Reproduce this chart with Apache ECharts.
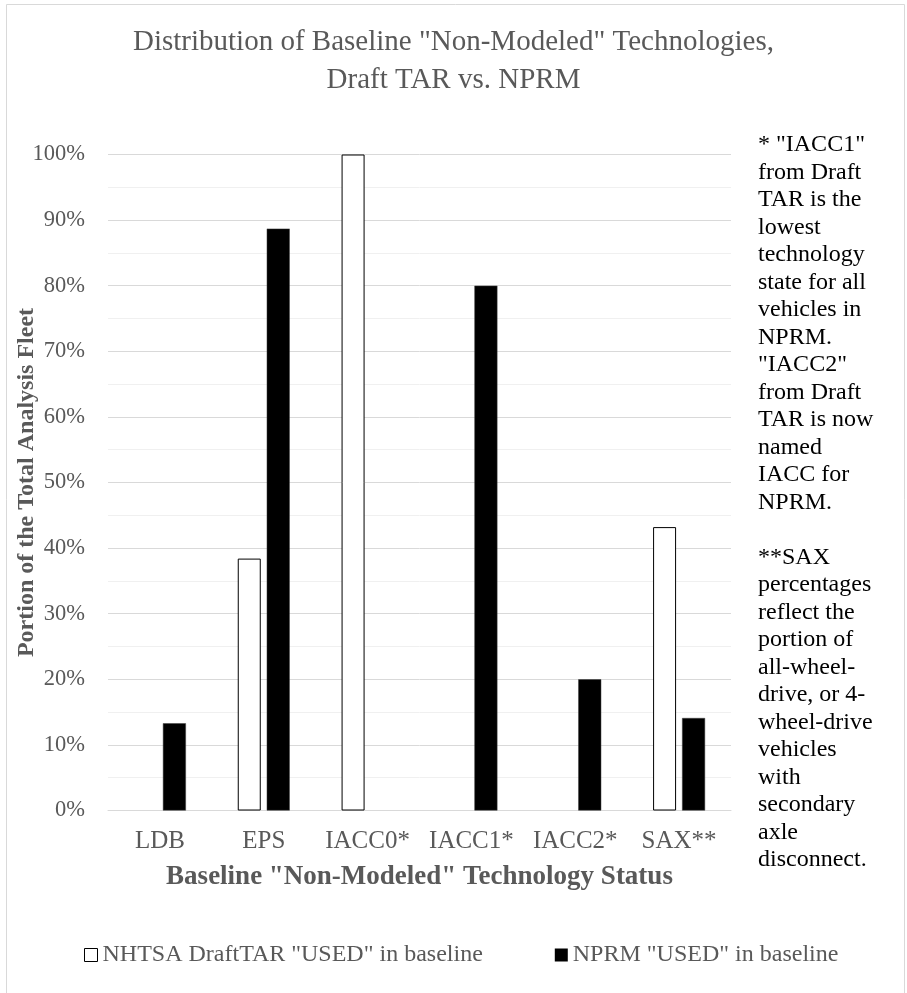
<!DOCTYPE html>
<html>
<head>
<meta charset="utf-8">
<script src="https://cdn.jsdelivr.net/npm/echarts@6/dist/echarts.min.js"></script>
<style>
  html, body {margin: 0; padding: 0; background: #fff;}
  #chart {width: 907px; height: 993px;}
</style>
</head>
<body>
<div id="chart"></div>
<script>
const categories = ['LDB', 'EPS', 'IACC0*', 'IACC1*', 'IACC2*', 'SAX**']
// portion of total fleet, percent (0 = no bar)
const draftTar = [0, 38.4, 100, 0, 0, 43.2]
const nprm = [13.3, 88.7, 0, 80.0, 20.0, 14.1]
const yTicks = [0, 100, 10]

const note = [
  '* "IACC1"', 'from Draft', 'TAR is the', 'lowest', 'technology', 'state for all',
  'vehicles in', 'NPRM.', '"IACC2"', 'from Draft', 'TAR is now', 'named',
  'IACC for', 'NPRM.', '', '**SAX', 'percentages', 'reflect the', 'portion of',
  'all-wheel-', 'drive, or 4-', 'wheel-drive', 'vehicles', 'with', 'secondary',
  'axle', 'disconnect.',
].join('\n')

const serif = '"Liberation Serif", "Times New Roman", serif'
const grayText = '#595959'

const chart = echarts.init(document.getElementById('chart'))

const noZero = arr => arr.map(v => (v === 0 ? '-' : v))

chart.setOption({
  animation: false,
  backgroundColor: '#fff',
  textStyle: {fontFamily: serif},
  title: {
    text: 'Distribution of Baseline "Non-Modeled" Technologies,\nDraft TAR vs. NPRM',
    left: 'center',
    top: 18,
    textStyle: {fontFamily: serif, fontWeight: 'normal', fontSize: 29, lineHeight: 38, color: grayText},
  },
  legend: {
    bottom: 21,
    left: 79,
    itemWidth: 13,
    itemHeight: 13,
    itemGap: 72,
    textStyle: {fontFamily: serif, fontSize: 24, color: grayText},
    data: [
      {name: 'NHTSA DraftTAR "USED" in baseline', icon: 'rect', itemStyle: {color: '#fff', borderColor: '#000', borderWidth: 1}},
      {name: 'NPRM "USED" in baseline', icon: 'rect', itemStyle: {color: '#000', borderWidth: 0}},
    ],
  },
  grid: {left: 108, right: 176, top: 154.5, bottom: 182.5, containLabel: false, outerBoundsMode: 'none'},
  xAxis: {
    type: 'category',
    data: categories,
    name: 'Baseline "Non-Modeled" Technology Status',
    nameLocation: 'middle',
    nameGap: 53,
    nameMoveOverlap: false,
    nameTextStyle: {fontFamily: serif, fontWeight: 'bold', fontSize: 27, color: grayText},
    axisLine: {lineStyle: {color: '#d9d9d9', width: 1}},
    axisTick: {show: false},
    axisLabel: {fontFamily: serif, fontSize: 25, color: grayText, margin: 18, interval: 0, hideOverlap: false},
  },
  yAxis: {
    type: 'value',
    min: yTicks[0],
    max: yTicks[1],
    interval: yTicks[2],
    name: 'Portion of the Total Analysis Fleet',
    nameLocation: 'middle',
    nameGap: 69,
    nameMoveOverlap: false,
    nameTextStyle: {fontFamily: serif, fontWeight: 'bold', fontSize: 24, color: grayText},
    axisLine: {show: false},
    axisTick: {show: false},
    axisLabel: {fontFamily: serif, fontSize: 22.5, color: grayText, margin: 23, formatter: '{value}%'},
    splitLine: {lineStyle: {color: '#d9d9d9', width: 1}},
    minorTick: {show: false, splitNumber: 2},
    minorSplitLine: {show: true, lineStyle: {color: '#f0f0f0', width: 1}},
  },
  graphic: [
    {
      type: 'rect',
      shape: {x: 6.5, y: 4.5, width: 898, height: 1000},
      style: {fill: 'none', stroke: '#d9d9d9', lineWidth: 1},
      silent: true,
    },
    {
      type: 'text',
      left: 758,
      top: 131,
      style: {text: note, fontFamily: serif, fontSize: 24, lineHeight: 27.5, fill: '#000'},
    },
  ],
  series: [
    {
      name: 'NHTSA DraftTAR "USED" in baseline',
      type: 'bar',
      data: noZero(draftTar),
      barWidth: 23,
      barGap: '26%',
      itemStyle: {color: '#fff', borderColor: '#000', borderWidth: 1},
    },
    {
      name: 'NPRM "USED" in baseline',
      type: 'bar',
      data: noZero(nprm),
      barWidth: 23,
      itemStyle: {color: '#000', borderColor: '#3f3f3f', borderWidth: 0.5},
    },
  ],
})
</script>
</body>
</html>
